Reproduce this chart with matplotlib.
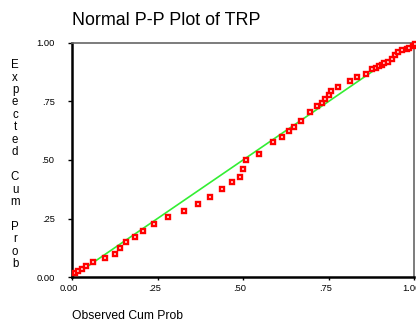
import matplotlib
matplotlib.use("Agg")
import matplotlib.pyplot as plt
import matplotlib.transforms as mtransforms

plt.rcParams['font.family'] = ['Liberation Sans', 'DejaVu Sans']

# observed vs expected cumulative probabilities
observed = [0.009, 0.018, 0.028, 0.040, 0.061, 0.096, 0.126, 0.141, 0.157, 0.183,
            0.207, 0.239, 0.280, 0.328, 0.368, 0.403, 0.439, 0.469, 0.491, 0.500,
            0.510, 0.546, 0.587, 0.613, 0.635, 0.648, 0.669, 0.695, 0.715, 0.730,
            0.741, 0.751, 0.756, 0.777, 0.812, 0.833, 0.859, 0.877, 0.889, 0.899,
            0.906, 0.913, 0.924, 0.936, 0.944, 0.954, 0.966, 0.980, 0.985, 0.998,
            1.003]
expected = [0.017, 0.025, 0.035, 0.045, 0.062, 0.083, 0.099, 0.124, 0.150, 0.170,
            0.195, 0.227, 0.258, 0.282, 0.313, 0.343, 0.375, 0.406, 0.426, 0.462,
            0.498, 0.524, 0.575, 0.600, 0.625, 0.642, 0.667, 0.707, 0.729, 0.744,
            0.759, 0.776, 0.796, 0.811, 0.837, 0.856, 0.868, 0.889, 0.893, 0.902,
            0.907, 0.913, 0.920, 0.933, 0.949, 0.963, 0.970, 0.973, 0.980, 0.989,
            0.997]
tick_vals = [0.0, 0.25, 0.5, 0.75, 1.0]
x_tick_labels = ['0.00', '.25', '.50', '.75', '1.00']
y_tick_labels = ['0.00', '.25', '.50', '.75', '1.00']

fig = plt.figure(figsize=(4.16, 3.23), dpi=100)
ax = fig.add_axes([0.1731, 0.1424, 0.8221, 0.7245])

# reference diagonal
ax.plot([0, 1], [0, 1], color='#33ee33', lw=1.2, zorder=2)
ax.plot(observed, expected, linestyle='none', marker='s', markersize=2.6,
        markerfacecolor='white', markeredgecolor='#ff0000', markeredgewidth=1.7,
        clip_on=False, zorder=3)

ax.set_xlim(0, 1)
ax.set_ylim(0, 1)
ax.set_xticks(tick_vals)
ax.set_xticklabels(x_tick_labels)
ax.set_yticks(tick_vals)
ax.set_yticklabels(y_tick_labels)
ax.tick_params(axis='both', labelsize=6.7, color='black', width=1)
ax.tick_params(axis='y', length=3, pad=9.5)
ax.tick_params(axis='x', length=2, pad=3)

# tick labels on x sit a little left of their ticks
shift = mtransforms.ScaledTranslation(-3 / 100, 0, fig.dpi_scale_trans)
for lab in ax.get_xticklabels():
    lab.set_transform(lab.get_transform() + shift)

ax.spines['left'].set_linewidth(1.8)
ax.spines['bottom'].set_linewidth(1.8)
for s in ['top', 'right']:
    ax.spines[s].set_color('#666666')
    ax.spines[s].set_linewidth(1.2)

fig.text(0.1731, 0.91, 'Normal P-P Plot of TRP', fontsize=12.9, ha='left', va='bottom')
fig.text(0.1731, 0.022, 'Observed Cum Prob', fontsize=8.7, ha='left', va='center')

ylab = '\n'.join('Expected Cum Prob')
fig.text(0.036, 0.49, ylab, fontsize=8.3, ha='center', va='center', linespacing=1.05)

fig.savefig('out.png', dpi=100)
